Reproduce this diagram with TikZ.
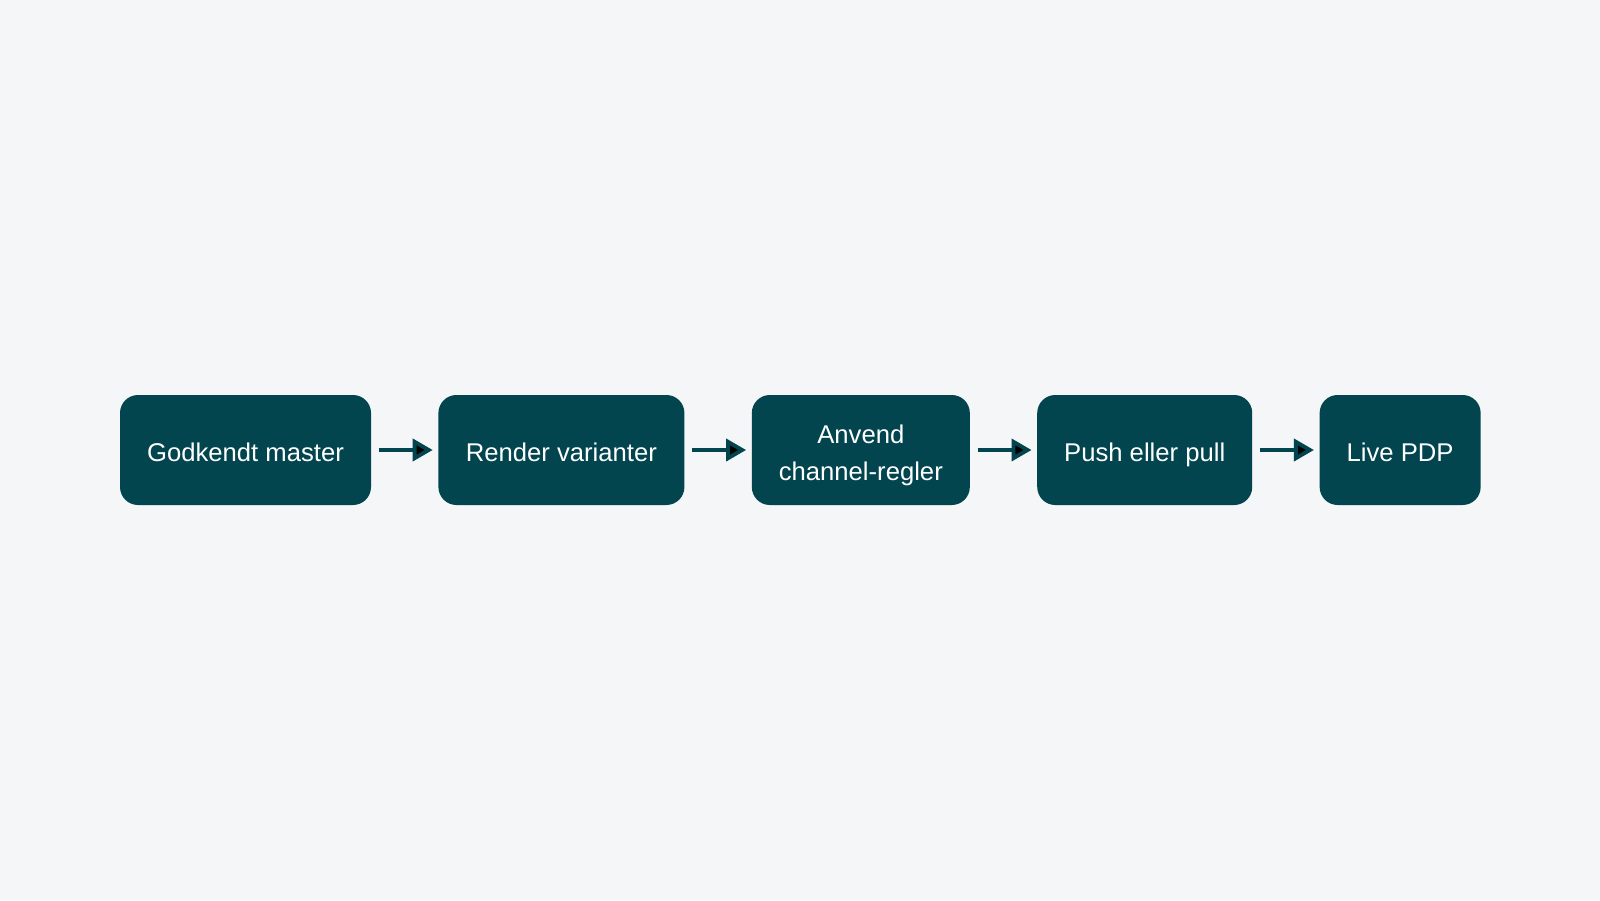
\documentclass[tikz,border=0pt]{standalone}
\usepackage{fontspec}
\setmainfont{Liberation Sans}
\usetikzlibrary{positioning,arrows.meta}
\definecolor{boxteal}{HTML}{02454F}
\definecolor{bgpaper}{HTML}{F4F6F8}

\begin{document}
\begin{tikzpicture}[node distance=0.66cm,
    stage/.style={rectangle, rounded corners=0.18cm, fill=boxteal, text=white,
      minimum height=1.1cm, align=center, inner sep=0pt,
      text height=8.66pt, text depth=2pt,
      font=\fontsize{7.3}{10.5}\selectfont},
    flow/.style={-{Triangle[length=0.2cm,width=0.22cm]}, draw=boxteal,
      line width=1.1pt, shorten <=0.07cm, shorten >=0.05cm}]
    \fill[bgpaper] (0,0) rectangle (16,9);
    \useasboundingbox (0,0) rectangle (16,9);

    \node[stage, minimum width=2.51cm] (master) at (2.455,4.5) {Godkendt master};
    \node[stage, minimum width=2.46cm] (render) [right=of master] {Render varianter};
    \node[stage, minimum width=2.18cm, text height=18pt, text depth=0.8pt] (rules) [right=of render] {Anvend\\channel-regler};
    \node[stage, minimum width=2.15cm] (push) [right=of rules] {Push eller pull};
    \node[stage, minimum width=1.61cm] (live) [right=of push] {Live PDP};

    \path[flow] (master) edge (render);
    \path[flow] (render) edge (rules);
    \path[flow] (rules) edge (push);
    \path[flow] (push) edge (live);
\end{tikzpicture}
\end{document}
